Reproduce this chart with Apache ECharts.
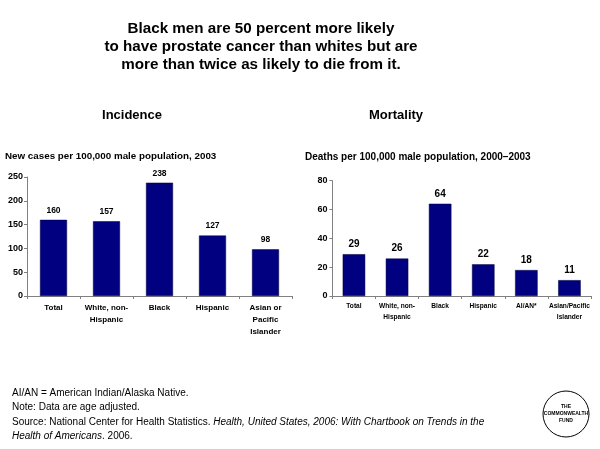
<!DOCTYPE html>
<html>
<head>
<meta charset="utf-8">
<script src="https://cdn.jsdelivr.net/npm/echarts@6/dist/echarts.min.js"></script>
<style>
html,body{margin:0;padding:0;background:#fff;}
#c{width:600px;height:449px;}
</style>
</head>
<body>
<div id="c"></div>
<script>
var incCategories = ['Total', 'White, non-\nHispanic', 'Black', 'Hispanic', 'Asian or\nPacific\nIslander'];
var incValues = [160, 157, 238, 127, 98];
var incTicks = [0, 50, 100, 150, 200, 250];

var mortCategories = ['Total', 'White, non-\nHispanic', 'Black', 'Hispanic', 'AI/AN*', 'Asian/Pacific\nIslander'];
var mortValues = [29, 26, 64, 22, 18, 11];
var mortTicks = [0, 20, 40, 60, 80];

var titleLines = ['Black men are 50 percent more likely', 'to have prostate cancer than whites but are', 'more than twice as likely to die from it.'];
var notes = ['AI/AN = American Indian/Alaska Native.', 'Note: Data are age adjusted.'];

var FONT = '"Liberation Sans", Arial, sans-serif';
var BAR = '#000080';
var AX = '#808080';

var chart = echarts.init(document.getElementById('c'), null, {renderer: 'canvas'});

var graphics = [];
titleLines.forEach(function (t, i) {
  graphics.push({type: 'text', style: {text: t, x: 261, y: 29 + i * 18, fontFamily: FONT, fontWeight: 'bold', fontSize: 15.2, fill: '#000', textAlign: 'center', textVerticalAlign: 'middle'}, z: 10});
});
graphics.push({type: 'text', style: {text: 'Incidence', x: 132, y: 115, fontFamily: FONT, fontWeight: 'bold', fontSize: 13, fill: '#000', textAlign: 'center', textVerticalAlign: 'middle'}});
graphics.push({type: 'text', style: {text: 'Mortality', x: 396, y: 115, fontFamily: FONT, fontWeight: 'bold', fontSize: 13, fill: '#000', textAlign: 'center', textVerticalAlign: 'middle'}});
graphics.push({type: 'text', style: {text: 'New cases per 100,000 male population, 2003', x: 5, y: 156, fontFamily: FONT, fontWeight: 'bold', fontSize: 9.8, fill: '#000', textAlign: 'left', textVerticalAlign: 'middle'}});
graphics.push({type: 'text', style: {text: 'Deaths per 100,000 male population, 2000\u20132003', x: 305, y: 157, fontFamily: FONT, fontWeight: 'bold', fontSize: 10, fill: '#000', textAlign: 'left', textVerticalAlign: 'middle'}});
notes.forEach(function (t, i) {
  graphics.push({type: 'text', style: {text: t, x: 12, y: 393 + i * 14.5, fontFamily: FONT, fontSize: 10, fill: '#000', textAlign: 'left', textVerticalAlign: 'middle'}});
});
graphics.push({type: 'text', style: {
  text: '{n|Source: National Center for Health Statistics. }{i|Health, United States, 2006: With Chartbook on Trends in the}',
  x: 12, y: 422, textAlign: 'left', textVerticalAlign: 'middle',
  rich: {n: {fontFamily: FONT, fontSize: 10, fill: '#000'}, i: {fontFamily: FONT, fontSize: 10, fontStyle: 'italic', fill: '#000'}}
}});
graphics.push({type: 'text', style: {
  text: '{i|Health of Americans}{n|. 2006.}',
  x: 12, y: 436, textAlign: 'left', textVerticalAlign: 'middle',
  rich: {n: {fontFamily: FONT, fontSize: 10, fill: '#000'}, i: {fontFamily: FONT, fontSize: 10, fontStyle: 'italic', fill: '#000'}}
}});
graphics.push({type: 'circle', shape: {cx: 566, cy: 414, r: 23}, style: {fill: '#fff', stroke: '#000', lineWidth: 1}});
graphics.push({type: 'text', style: {text: 'THE\nCOMMONWEALTH\nFUND', x: 566, y: 414, fontFamily: FONT, fontWeight: 'bold', fontSize: 5, lineHeight: 7, fill: '#000', textAlign: 'center', textVerticalAlign: 'middle'}});

var option = {
  animation: false,
  backgroundColor: '#fff',
  graphic: graphics,
  grid: [
    {left: 27, right: 308, top: 177, bottom: 153, containLabel: false},
    {left: 332.4, right: 9, top: 180.7, bottom: 153, containLabel: false}
  ],
  xAxis: [
    {type: 'category', gridIndex: 0, data: incCategories,
     axisLine: {lineStyle: {color: AX, width: 1}},
     axisTick: {show: true, length: 3, lineStyle: {color: AX}},
     axisLabel: {interval: 0, color: '#000', fontFamily: FONT, fontWeight: 'bold', fontSize: 8, lineHeight: 12, margin: 6}},
    {type: 'category', gridIndex: 1, data: mortCategories,
     axisLine: {lineStyle: {color: AX, width: 1}},
     axisTick: {show: true, length: 3, lineStyle: {color: AX}},
     axisLabel: {interval: 0, color: '#000', fontFamily: FONT, fontWeight: 'bold', fontSize: 6.6, lineHeight: 11, margin: 5}}
  ],
  yAxis: [
    {type: 'value', gridIndex: 0, min: incTicks[0], max: incTicks[incTicks.length - 1], interval: 50,
     axisLine: {show: true, lineStyle: {color: AX, width: 1}},
     axisTick: {show: true, length: 3, lineStyle: {color: AX}},
     splitLine: {show: false},
     axisLabel: {color: '#000', fontFamily: FONT, fontWeight: 'bold', fontSize: 9, margin: 4}},
    {type: 'value', gridIndex: 1, min: mortTicks[0], max: mortTicks[mortTicks.length - 1], interval: 20,
     axisLine: {show: true, lineStyle: {color: AX, width: 1}},
     axisTick: {show: true, length: 3, lineStyle: {color: AX}},
     splitLine: {show: false},
     axisLabel: {color: '#000', fontFamily: FONT, fontWeight: 'bold', fontSize: 9, margin: 5}}
  ],
  series: [
    {type: 'bar', xAxisIndex: 0, yAxisIndex: 0, data: incValues, barWidth: 27,
     itemStyle: {color: BAR, borderColor: '#000040', borderWidth: 0.5},
     label: {show: true, position: 'top', distance: 5, color: '#000', fontFamily: FONT, fontWeight: 'bold', fontSize: 8.5}},
    {type: 'bar', xAxisIndex: 1, yAxisIndex: 1, data: mortValues, barWidth: 22.5,
     itemStyle: {color: BAR, borderColor: '#000040', borderWidth: 0.5},
     label: {show: true, position: 'top', distance: 5, color: '#000', fontFamily: FONT, fontWeight: 'bold', fontSize: 10}}
  ]
};
chart.setOption(option);
</script>
</body>
</html>
